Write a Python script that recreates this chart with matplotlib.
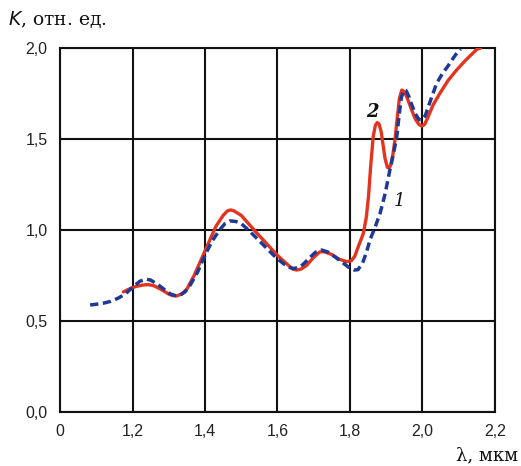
import matplotlib
matplotlib.use("Agg")
import matplotlib.pyplot as plt

# Curve 1 (blue dashed)
x1 = [1.083, 1.10, 1.12, 1.14, 1.16, 1.18, 1.20, 1.22, 1.237, 1.25, 1.27, 1.29, 1.305,
      1.317, 1.33, 1.345, 1.36, 1.38, 1.40, 1.42, 1.44, 1.455, 1.469, 1.485, 1.50, 1.52,
      1.54, 1.57, 1.598, 1.62, 1.635, 1.644, 1.655, 1.67, 1.69, 1.705, 1.722, 1.74, 1.76,
      1.78, 1.80, 1.812, 1.822, 1.835, 1.845, 1.855, 1.87, 1.883, 1.897, 1.910, 1.920,
      1.929, 1.936, 1.942, 1.949, 1.955, 1.962, 1.970, 1.980, 1.990, 1.998, 2.008, 2.02,
      2.039, 2.055, 2.07, 2.085, 2.094, 2.105]
y1 = [0.588, 0.592, 0.598, 0.608, 0.625, 0.648, 0.685, 0.718, 0.730, 0.725, 0.700, 0.670, 0.648,
      0.640, 0.640, 0.660, 0.700, 0.770, 0.862, 0.940, 1.000, 1.035, 1.050, 1.047, 1.035, 1.000,
      0.960, 0.900, 0.844, 0.810, 0.793, 0.789, 0.792, 0.810, 0.850, 0.878, 0.890, 0.878, 0.850,
      0.820, 0.790, 0.780, 0.782, 0.820, 0.875, 0.945, 1.020, 1.092, 1.200, 1.330, 1.420,
      1.513, 1.640, 1.730, 1.769, 1.765, 1.735, 1.690, 1.640, 1.607, 1.605, 1.630, 1.700,
      1.806, 1.860, 1.900, 1.945, 1.970, 1.995]

# Curve 2 (red solid)
x2 = [1.175, 1.19, 1.21, 1.23, 1.244, 1.26, 1.28, 1.30, 1.31, 1.322, 1.335, 1.35, 1.37,
      1.39, 1.41, 1.43, 1.45, 1.462, 1.471, 1.48, 1.50, 1.52, 1.54, 1.57, 1.60, 1.625,
      1.642, 1.653, 1.665, 1.68, 1.70, 1.717, 1.73, 1.75, 1.77, 1.791, 1.803, 1.813, 1.825,
      1.837, 1.845, 1.851, 1.857, 1.864, 1.870, 1.875, 1.880, 1.886, 1.891, 1.897, 1.903,
      1.908, 1.913, 1.918, 1.924, 1.930, 1.936, 1.943, 1.950, 1.958, 1.97, 1.98, 1.99,
      1.998, 2.006, 2.015, 2.03, 2.048, 2.07, 2.094, 2.12, 2.15, 2.16]
y2 = [0.660, 0.675, 0.690, 0.698, 0.700, 0.693, 0.672, 0.648, 0.640, 0.638, 0.648, 0.675, 0.750,
      0.840, 0.930, 1.020, 1.080, 1.105, 1.110, 1.105, 1.080, 1.035, 0.990, 0.925, 0.860, 0.815,
      0.785, 0.780, 0.785, 0.805, 0.850, 0.880, 0.880, 0.865, 0.840, 0.826, 0.830, 0.855, 0.920,
      0.982, 1.070, 1.183, 1.350, 1.513, 1.575, 1.590, 1.583, 1.540, 1.470, 1.390, 1.345,
      1.340, 1.360, 1.410, 1.495, 1.610, 1.720, 1.769, 1.760, 1.725, 1.660, 1.610, 1.580,
      1.571, 1.580, 1.620, 1.690, 1.751, 1.820, 1.879, 1.935, 1.993, 2.000]

xticks = [1.0, 1.2, 1.4, 1.6, 1.8, 2.0, 2.2]
xtick_labels = ["0", "1,2", "1,4", "1,6", "1,8", "2,0", "2,2"]
yticks = [0.0, 0.5, 1.0, 1.5, 2.0]
ytick_labels = ["0,0", "0,5", "1,0", "1,5", "2,0"]

fig = plt.figure(figsize=(5.21, 4.66), dpi=100)
ax = fig.add_axes([60/521, 54/466, 435/521, 364/466])

ax.plot(x2, y2, color="#e3341f", lw=2.4, solid_capstyle="round", solid_joinstyle="round", zorder=3)
ax.plot(x1, y1, color="#1f3a96", lw=2.5, linestyle=(0, (2.4, 1.3)), zorder=4)

ax.set_xlim(1.0, 2.2)
ax.set_ylim(0.0, 2.0)
ax.set_xticks(xticks)
ax.set_xticklabels(xtick_labels, fontfamily="Liberation Sans", fontsize=11.5)
ax.set_yticks(yticks)
ax.set_yticklabels(ytick_labels, fontfamily="Liberation Sans", fontsize=11.5)
ax.tick_params(length=0, pad=9, colors="#222222")
ax.grid(True, color="#111111", lw=1.5)
ax.set_axisbelow(True)
for s in ax.spines.values():
    s.set_color("#111111")
    s.set_linewidth(1.5)

fig.text(8/521, 1 - 20/466, "$K$, отн. ед.", fontfamily="DejaVu Serif", fontsize=13.5,
         ha="left", va="center", color="#111111")
fig.text(518/521, 1 - 455/466, "λ, мкм", fontfamily="DejaVu Serif", fontsize=13,
         ha="right", va="center", color="#111111")

ax.text(1.862, 1.65, "2", fontfamily="DejaVu Serif", fontstyle="italic", fontweight="bold",
        fontsize=13, ha="center", va="center", color="#111111")
ax.text(1.937, 1.157, "1", fontfamily="DejaVu Serif", fontstyle="italic",
        fontsize=13, ha="center", va="center", color="#111111")

fig.savefig("out.png", dpi=100)
